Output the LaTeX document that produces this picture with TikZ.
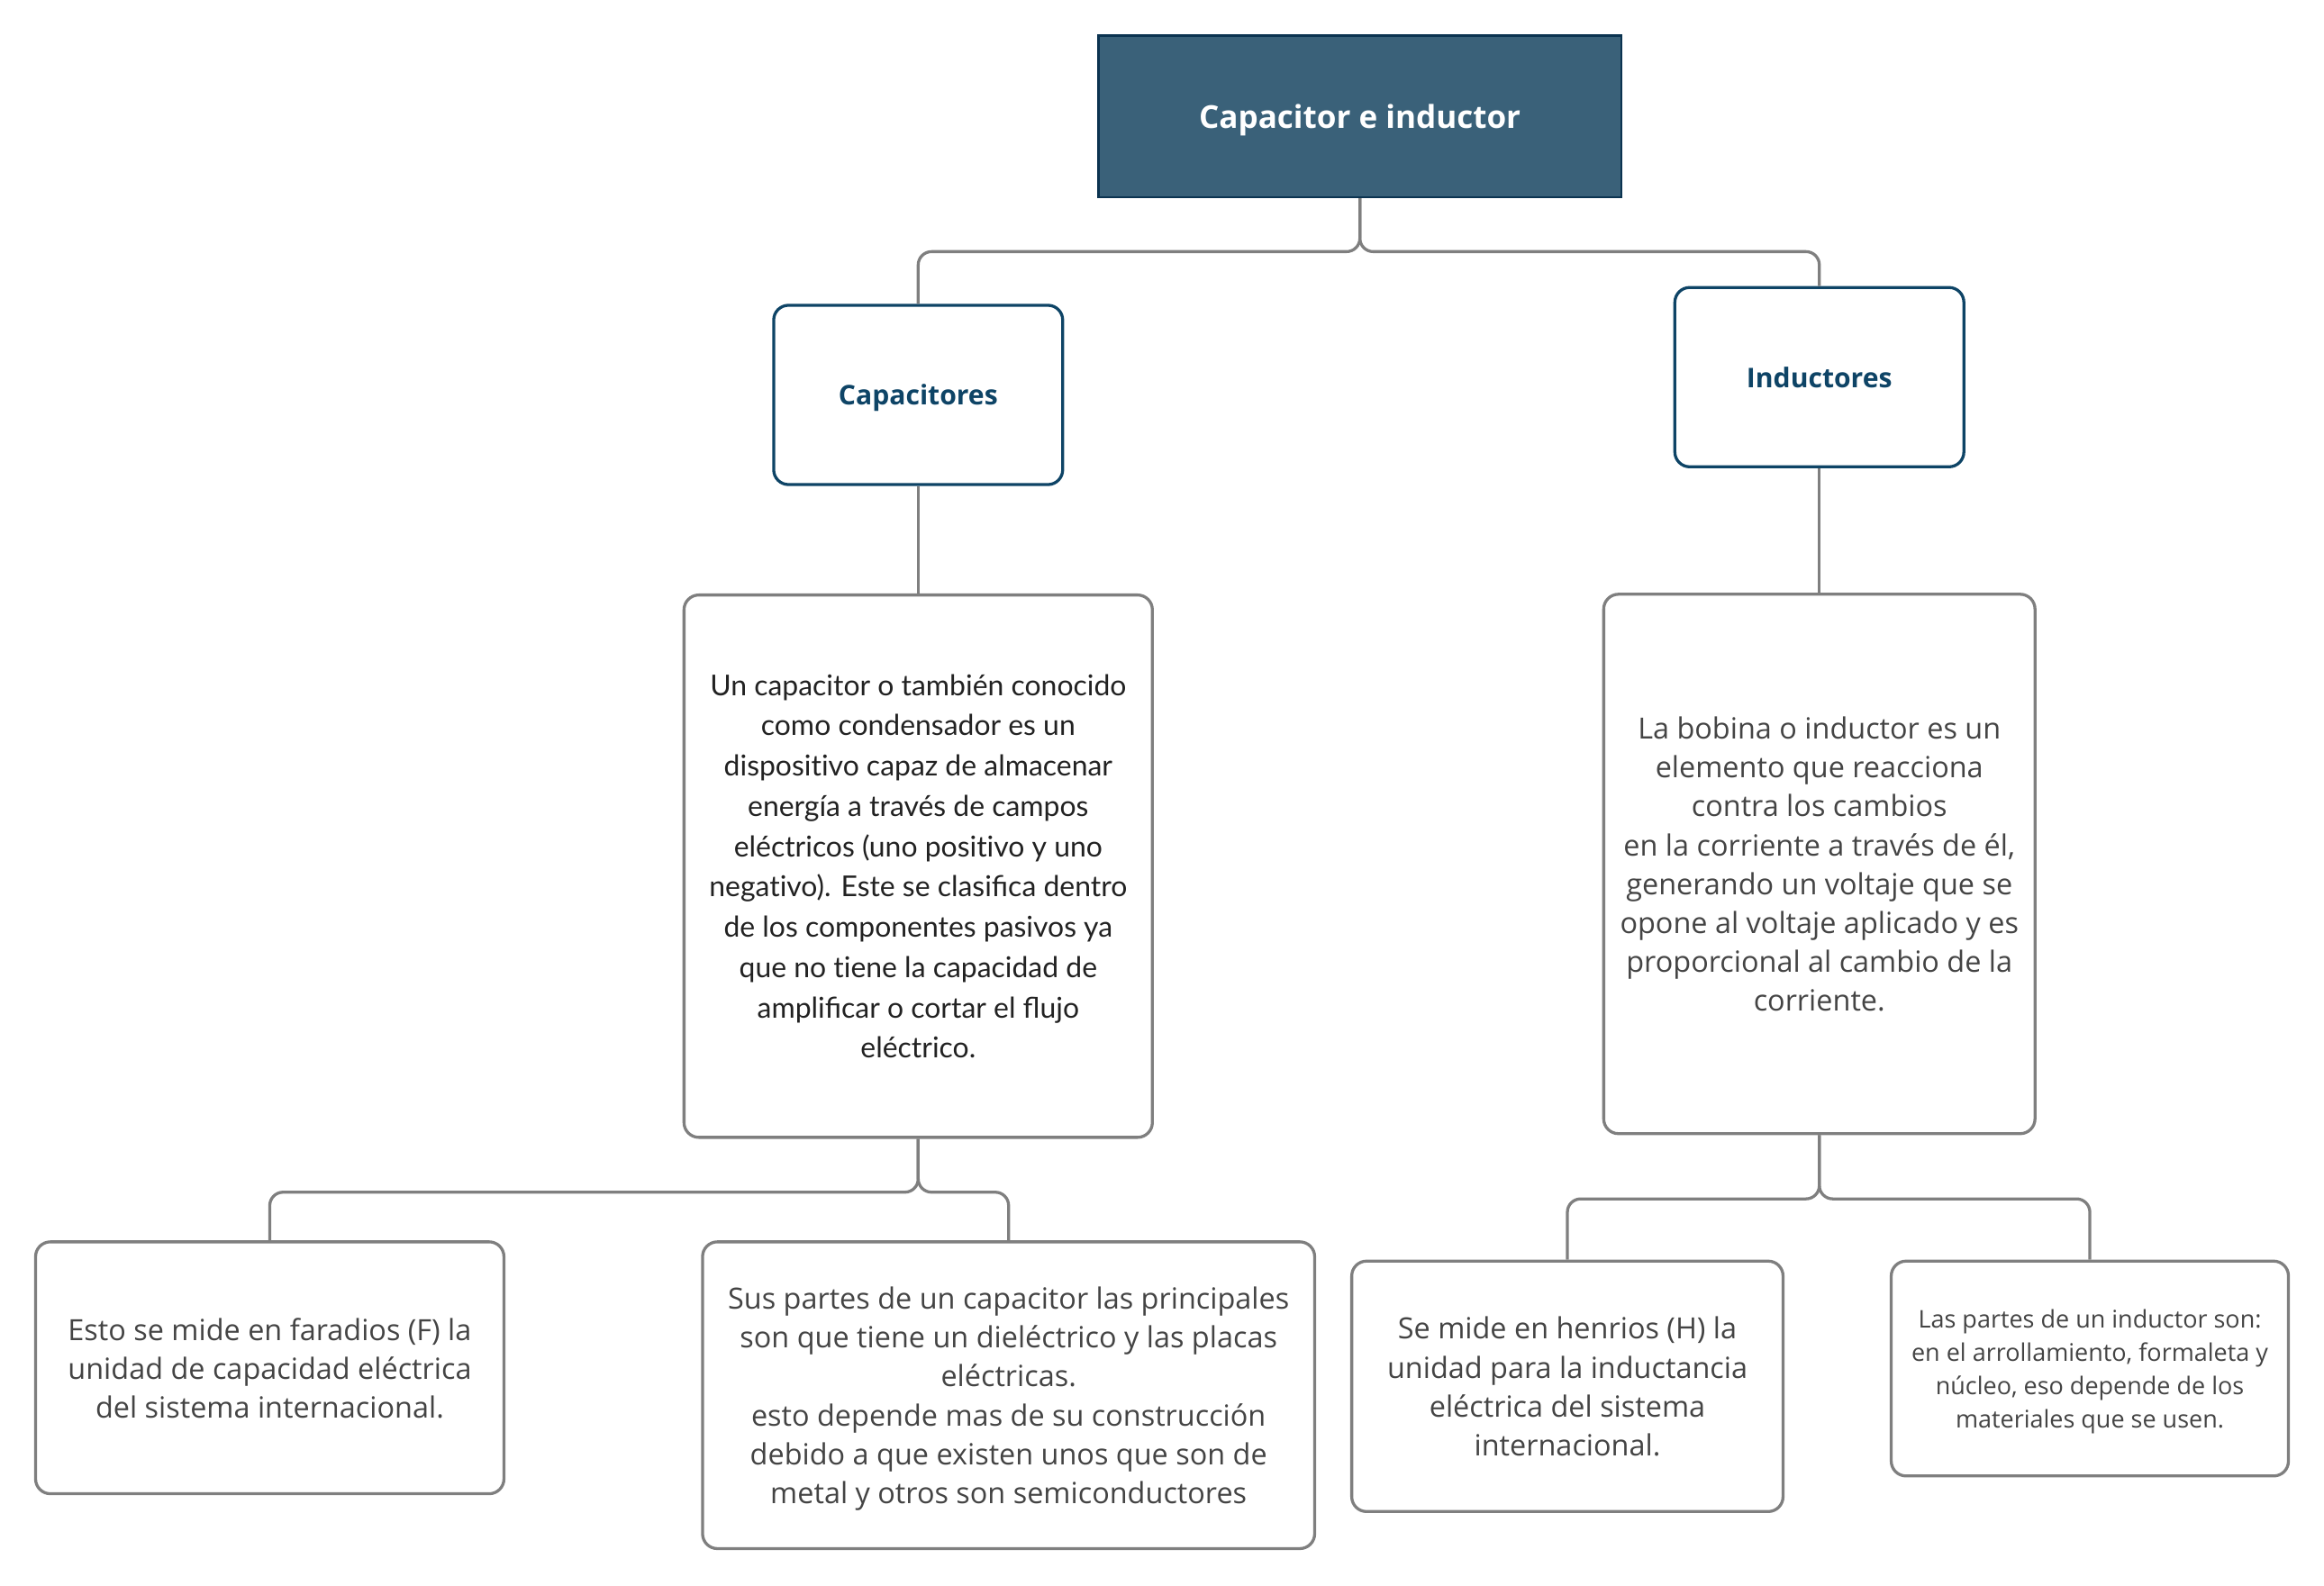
\documentclass[tikz,border=0pt]{standalone}
\usepackage{fontspec}
\setmainfont{Open Sans}
\newfontfamily\latofont{Lato}
\newcommand\tkn{t\kern0pt i}
\definecolor{rootfill}{HTML}{3A6179}
\definecolor{rootline}{HTML}{0B3350}
\definecolor{topicline}{HTML}{0E4466}
\definecolor{linkgray}{HTML}{7F7F7F}
\definecolor{notetext}{HTML}{444444}
\definecolor{latotext}{HTML}{222222}
\begin{document}
\begin{tikzpicture}[x=1pt,y=-1pt,
    every node/.style={align=center,inner sep=0pt},
    root/.style={draw=rootline,fill=rootfill,line width=1.6pt,text=white,text depth=0pt,
      minimum width=353pt,minimum height=109pt,font=\bfseries\fontsize{21.3}{26}\selectfont},
    topic/.style={draw=topicline,fill=white,line width=2pt,rounded corners=10pt,text=topicline,
      text depth=0pt,minimum width=195pt,minimum height=121pt,font=\bfseries\fontsize{18.3}{22}\selectfont},
    note/.style={draw=linkgray,fill=white,line width=2pt,rounded corners=10pt,text=notetext,
      text depth=0pt,font=\fontsize{19.7}{26.2}\selectfont},
    link/.style={draw=linkgray,line width=2pt,rounded corners=9pt}]
  \useasboundingbox (0,0) rectangle (1568,1070.2);
  \draw
    (917.5,78.5) node[root] (root){Capacitor e inductor}
    (619.5,266.5) node[topic] (cap){Capacitores}
    (1227.5,254.5) node[topic] (ind){Inductores}
    (619.5,584.5) node[note,minimum width=316pt,minimum height=366pt,text=latotext,
      font=\latofont\fontsize{19.4}{27.2}\selectfont] (capdesc){Un capacitor o también conocido\\
      como condensador es un\\ disposi\tkn vo capaz de almacenar\\ energía a través de campos\\
      eléctricos (uno posi\tkn vo y uno\\ nega\tkn vo). Este se clasifica dentro\\
      de los componentes pasivos ya\\ que no \tkn ene la capacidad de\\
      amplificar o cortar el flujo\\ eléctrico.}
    (1227.5,583) node[note,minimum width=291pt,minimum height=364pt] (inddesc){La bobina o inductor es un\\
      elemento que reacciona\\ contra los cambios\\ en la corriente a través de él,\\
      generando un voltaje que se\\ opone al voltaje aplicado y es\\
      proporcional al cambio de la\\ corriente.}
    (182,923) node[note,minimum width=316pt,minimum height=170pt] (faradios){Esto se mide en faradios (F) la\\
      unidad de capacidad eléctrica\\ del sistema internacional.}
    (680.5,941.5) node[note,minimum width=413pt,minimum height=207pt] (capparts){Sus partes de un capacitor las principales\\
      son que tiene un dieléctrico y las placas\\ eléctricas.\\ esto depende mas de su construcción\\
      debido a que existen unos que son de\\ metal y otros son semiconductores}
    (1057.5,935.5) node[note,minimum width=291pt,minimum height=169pt] (henrios){Se mide en henrios (H) la\\
      unidad para la inductancia\\ eléctrica del sistema\\ internacional.}
    (1410,923.5) node[note,minimum width=268pt,minimum height=145pt,
      font=\fontsize{16.4}{22.4}\selectfont] (indparts){Las partes de un inductor son:\\
      en el arrollamiento, formaleta y\\ núcleo, eso depende de los\\ materiales que se usen.};
  \begin{scope}[link]
    \draw (root.south) -- ++(0,36) -| (cap.north);
    \draw (root.south) -- ++(0,36) -| (ind.north);
    \draw (cap.south) to (capdesc.north);
    \draw (ind.south) to (inddesc.north);
    \draw (capdesc.south) -- ++(0,36) -| (faradios.north);
    \draw (capdesc.south) -- ++(0,36) -| (capparts.north);
    \draw (inddesc.south) -- ++(0,43) -| (henrios.north);
    \draw (inddesc.south) -- ++(0,43) -| (indparts.north);
  \end{scope}
\end{tikzpicture}
\end{document}
